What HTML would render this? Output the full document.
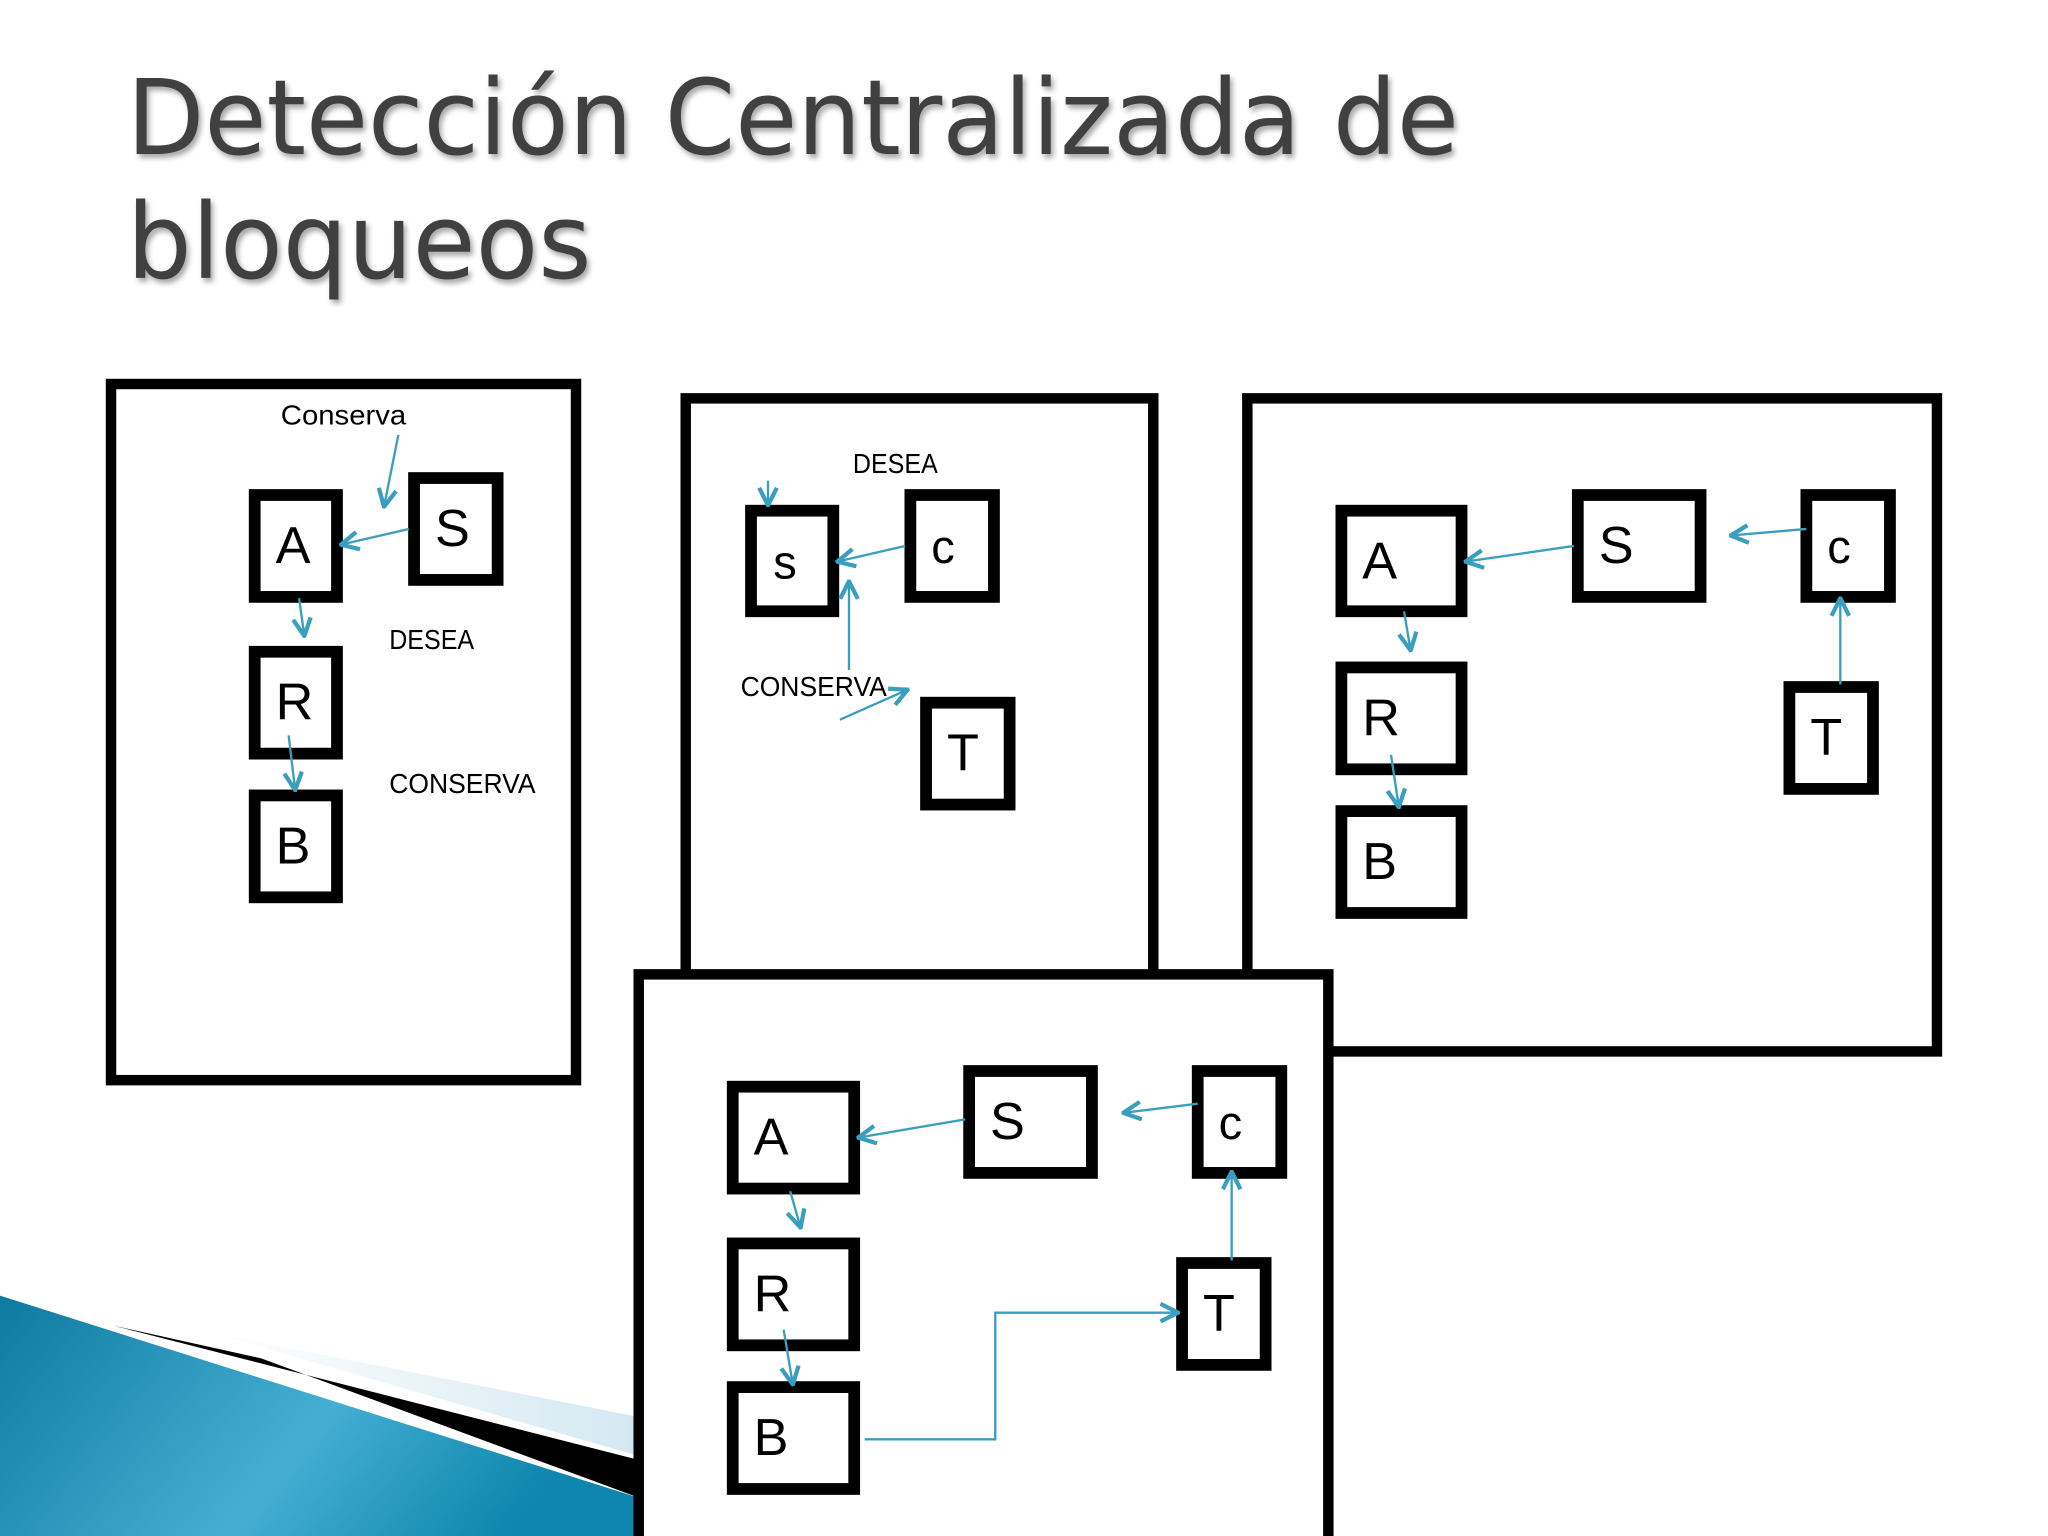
<!DOCTYPE html>
<html><head><meta charset="utf-8"><style>
html,body{margin:0;padding:0;background:#fff;}
svg{display:block}
</style></head><body>
<svg width="2048" height="1536" viewBox="0 0 1568 1176" xmlns="http://www.w3.org/2000/svg">
<defs>
<marker id="ah" viewBox="0 0 12 12" refX="11" refY="6" markerWidth="9" markerHeight="9" markerUnits="strokeWidth" orient="auto">
<path d="M1,1 L11,6 L1,11" fill="none" stroke="#3a9fbf" stroke-width="2.4"/>
</marker>
<linearGradient id="bl" x1="0" y1="0" x2="1" y2="0.3">
<stop offset="0" stop-color="#0e7aa0"/><stop offset="0.6" stop-color="#45aed3"/><stop offset="1" stop-color="#0e86ad"/>
</linearGradient>
<linearGradient id="lt" x1="0" y1="0" x2="1" y2="0">
<stop offset="0" stop-color="#fff"/><stop offset="1" stop-color="#d4e8f2"/>
</linearGradient>
<filter id="sh"><feDropShadow dx="2" dy="3" stdDeviation="2" flood-color="#000" flood-opacity="0.35"/></filter>
</defs>
<rect width="1568" height="1176" fill="#fff"/>
<polygon points="160,1020 490,1085 490,1115" fill="url(#lt)"/>
<polygon points="87,1015 490,1118 490,1147 200,1040" fill="#000"/>
<polygon points="0,992 490,1147 490,1176 0,1176" fill="url(#bl)"/>
<g font-family="DejaVu Sans, Verdana, sans-serif" font-size="80" fill="#404040" filter="url(#sh)">
<text x="97" y="118" textLength="1020" lengthAdjust="spacingAndGlyphs">Detección Centralizada de</text>
<text x="97" y="213" textLength="356" lengthAdjust="spacingAndGlyphs">bloqueos</text>
</g>
<g fill="none" stroke="#000" stroke-width="8">
<rect x="85" y="294" width="356" height="533"/>
<rect x="525" y="305" width="358" height="460"/>
<rect x="955" y="305" width="528" height="500"/>
</g>
<g font-family="Liberation Sans, sans-serif" fill="#000">
<g fill="none" stroke="#000" stroke-width="9">
<rect x="195" y="379" width="63" height="78"/>
<rect x="317" y="366" width="64" height="78"/>
<rect x="195" y="499" width="63" height="78"/>
<rect x="195" y="609" width="63" height="78"/>
<rect x="575" y="391" width="63" height="77"/>
<rect x="697" y="379" width="64" height="78"/>
<rect x="709" y="538" width="64" height="78"/>
<rect x="1027" y="391" width="92" height="77"/>
<rect x="1208" y="379" width="94" height="78"/>
<rect x="1383" y="379" width="64" height="78"/>
<rect x="1027" y="511" width="92" height="78"/>
<rect x="1370" y="526" width="64" height="78"/>
<rect x="1027" y="621" width="92" height="78"/>
</g>
<g font-size="40">
<text x="211" y="431">A</text><text x="333" y="418">S</text>
<text x="211" y="551">R</text><text x="211" y="661">B</text>
<text x="592" y="443" font-size="36">s</text><text x="713" y="431" font-size="36">c</text>
<text x="725" y="590">T</text>
<text x="1043" y="443">A</text><text x="1224" y="431">S</text><text x="1399" y="431" font-size="36">c</text>
<text x="1043" y="563">R</text><text x="1386" y="578">T</text><text x="1043" y="673">B</text>
</g>
<g font-size="21">
<text x="215" y="325" textLength="96" lengthAdjust="spacingAndGlyphs">Conserva</text>
<text x="298" y="497" textLength="65" lengthAdjust="spacingAndGlyphs">DESEA</text>
<text x="298" y="607" textLength="112" lengthAdjust="spacingAndGlyphs">CONSERVA</text>
<text x="653" y="362" textLength="65" lengthAdjust="spacingAndGlyphs">DESEA</text>
<text x="567" y="533" textLength="112" lengthAdjust="spacingAndGlyphs">CONSERVA</text>
</g>
</g>
<g stroke="#3a9fbf" stroke-width="1.8" fill="none" marker-end="url(#ah)">
<line x1="305" y1="333" x2="294" y2="388"/>
<line x1="313" y1="405" x2="261" y2="417"/>
<line x1="229" y1="458" x2="233" y2="487"/>
<line x1="221" y1="563" x2="226" y2="605"/>
<line x1="588" y1="368" x2="588" y2="387"/>
<line x1="693" y1="418" x2="641" y2="430"/>
<line x1="650" y1="513" x2="650" y2="445"/>
<line x1="643" y1="551" x2="695" y2="528"/>
<line x1="1205" y1="418" x2="1122" y2="430"/>
<line x1="1383" y1="405" x2="1325" y2="410"/>
<line x1="1409" y1="524" x2="1409" y2="458"/>
<line x1="1075" y1="468" x2="1080" y2="498"/>
<line x1="1065" y1="578" x2="1071" y2="618"/>
</g>
<rect x="489" y="746" width="528" height="440" fill="#fff" stroke="#000" stroke-width="8"/>
<g fill="none" stroke="#000" stroke-width="9">
<rect x="561" y="832" width="93" height="78"/>
<rect x="742" y="820" width="94" height="78"/>
<rect x="917" y="820" width="64" height="78"/>
<rect x="561" y="952" width="93" height="78"/>
<rect x="905" y="967" width="64" height="78"/>
<rect x="561" y="1062" width="93" height="78"/>
</g>
<g font-family="Liberation Sans, sans-serif" font-size="40" fill="#000">
<text x="577" y="884">A</text><text x="758" y="872">S</text><text x="933" y="872" font-size="36">c</text>
<text x="577" y="1004">R</text><text x="921" y="1019">T</text><text x="577" y="1114">B</text>
</g>
<g stroke="#3a9fbf" stroke-width="1.8" fill="none" marker-end="url(#ah)">
<line x1="739" y1="857" x2="657" y2="871"/>
<line x1="917" y1="845" x2="860" y2="852"/>
<line x1="943" y1="965" x2="943" y2="897"/>
<line x1="605" y1="912" x2="613" y2="940"/>
<line x1="600" y1="1018" x2="607" y2="1060"/>
<polyline points="662,1102 762,1102 762,1005 902,1005"/>
</g>
</svg>
</body></html>
